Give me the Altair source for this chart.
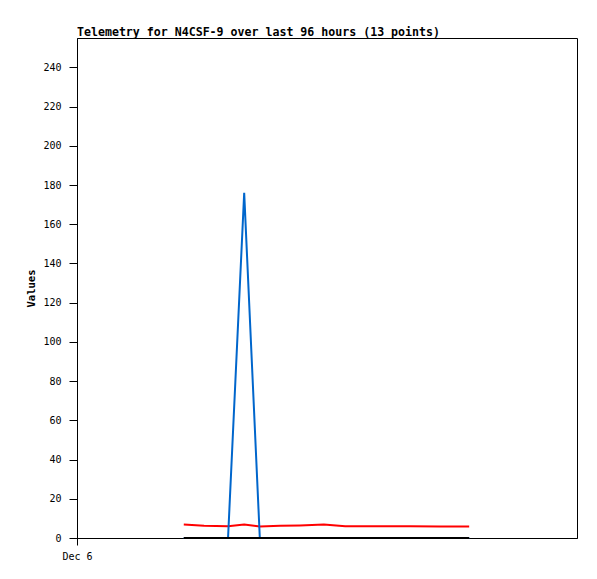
import altair as alt
import pandas as pd

# Time offsets (hours from Dec 6 00:00) of the 13 telemetry points
hours = [20.5, 24.4, 29.0, 32.1, 35.1, 39.0, 42.8, 47.4, 51.5, 58.2, 64.0, 69.7, 75.3]
ch_blue = [0, 0, 0, 176, 0, 0, 0, 0, 0, 0, 0, 0, 0]
ch_red = [6.9, 6.2, 6.0, 6.9, 5.9, 6.2, 6.4, 6.9, 6.0, 6.0, 6.0, 5.9, 5.9]
ch_black = [0, 0, 0, 0, 0, 0, 0, 0, 0, 0, 0, 0, 0]
y_ticks = list(range(0, 241, 20))

df = pd.DataFrame({"hours": hours, "blue": ch_blue, "red": ch_red, "black": ch_black})

FONT = "DejaVu Sans Mono"

x_enc = alt.X(
    "hours:Q",
    scale=alt.Scale(domain=[0, 96], nice=False, zero=False),
    axis=alt.Axis(
        values=[0], labelExpr="'Dec 6'", title=None, grid=False, labelFlush=False,
        labelAlign="center", tickSize=7, labelPadding=6, domainColor="black",
        tickColor="black", labelColor="black", labelFont=FONT, labelFontSize=10,
        labelFontWeight="normal",
    ),
)

def y_enc(field):
    return alt.Y(
        f"{field}:Q",
        scale=alt.Scale(domain=[0, 255], nice=False),
        axis=alt.Axis(
            values=y_ticks, title="Values", grid=False, tickSize=8, labelPadding=8,
            domainColor="black", tickColor="black", labelColor="black",
            labelFont=FONT, labelFontSize=10, labelFontWeight="normal",
            titleFont=FONT, titleFontSize=10.5, titleFontWeight="bold",
            titleColor="black", titlePadding=6,
        ),
    )

base = alt.Chart(df)
red = base.mark_line(color="#ff0000", strokeWidth=2).encode(x=x_enc, y=y_enc("red"))
blue = base.mark_line(color="#0066cc", strokeWidth=2).encode(x=x_enc, y=y_enc("blue"))
black = base.mark_line(color="#000000", strokeWidth=2).encode(x=x_enc, y=y_enc("black"))

chart = (
    alt.layer(red, blue, black)
    .properties(
        width=500,
        height=500,
        autosize=alt.AutoSizeParams(type="none"),
        padding={"left": 69, "top": 30, "right": 10, "bottom": 30},
        title=alt.TitleParams(
            "Telemetry for N4CSF-9 over last 96 hours (13 points)",
            anchor="start", frame="group", font=FONT, fontSize=11.6,
            fontWeight="bold", color="black", offset=-1,
        ),
        background="white",
    )
    .configure_view(stroke="black", strokeWidth=1)
)

chart.save("out.html", embed_options={"renderer": "svg", "actions": False})
